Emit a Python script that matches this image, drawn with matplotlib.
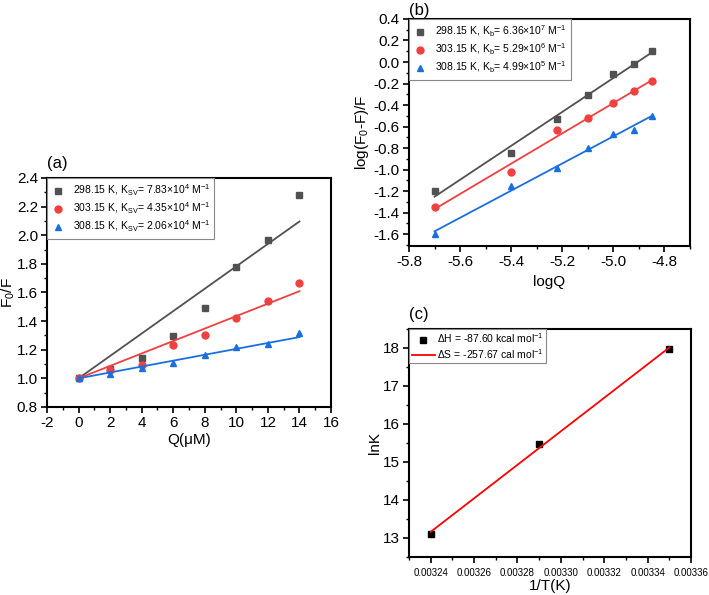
import matplotlib
matplotlib.use('Agg')
import matplotlib.pyplot as plt
from matplotlib.ticker import MultipleLocator, FormatStrFormatter
import numpy as np

plt.rcParams['font.family'] = ['Liberation Sans', 'DejaVu Sans']
plt.rcParams['mathtext.fontset'] = 'custom'
plt.rcParams['mathtext.rm'] = 'Liberation Sans'
plt.rcParams['mathtext.it'] = 'Liberation Sans:italic'
plt.rcParams['mathtext.default'] = 'regular'
plt.rcParams['axes.unicode_minus'] = False

# ---- data ----
temps = ['298.15', '303.15', '308.15']
colors = ['#515151', '#F14040', '#1A6FDF']
markers = ['s', 'o', '^']

# (a) Stern-Volmer
q_um = [0, 2, 4, 6, 8, 10, 12, 14]
f0f_298 = [1.0, 1.063, 1.144, 1.295, 1.495, 1.777, 1.97, 2.28]
f0f_303 = [1.0, 1.058, 1.095, 1.235, 1.305, 1.419, 1.542, 1.663]
f0f_308 = [1.0, 1.032, 1.074, 1.107, 1.163, 1.221, 1.237, 1.316]
ksv = [0.0783, 0.0435, 0.0206]   # per uM
ksv_txt = ['7.83', '4.35', '2.06']

# (b) double log
log_q = [-5.70, -5.40, -5.22, -5.10, -5.00, -4.92, -4.85]
logf_298 = [-1.20, -0.844, -0.529, -0.31, -0.115, -0.017, 0.10]
logf_303 = [-1.347, -1.02, -0.628, -0.517, -0.384, -0.27, -0.18]
logf_308 = [-1.60, -1.153, -0.986, -0.80, -0.665, -0.628, -0.505]
kb_txt = ['6.36×10$^7$', '5.29×10$^6$', '4.99×10$^5$']

# (c) van't Hoff
inv_t = [0.00324, 0.00329, 0.00335]
ln_k = [13.1, 15.48, 17.96]

fig = plt.figure(figsize=(7.09, 5.95), dpi=100)
axa = fig.add_axes([0.0663, 0.316, 0.4006, 0.3849])
axb = fig.add_axes([0.5769, 0.5866, 0.3963, 0.3815])
axc = fig.add_axes([0.5769, 0.0639, 0.3977, 0.3832])


def style(ax):
    for s in ax.spines.values():
        s.set_linewidth(1.5)
    ax.tick_params(which='major', direction='out', length=4, width=1.2,
                   labelsize=11, top=False, right=False, pad=2.5)
    ax.tick_params(which='minor', direction='out', length=2.2, width=1,
                   top=False, right=False)


def legend(ax, hl, htp, bp, ls):
    leg = ax.legend(loc='upper left', fontsize=7.5, borderaxespad=0, fancybox=False,
                    edgecolor='#888888', framealpha=1, handlelength=hl, handletextpad=htp,
                    borderpad=bp, labelspacing=ls)
    leg.get_frame().set_linewidth(0.8)


# ---- (a) ----
a_sets = [f0f_298, f0f_303, f0f_308]
qa = np.array(q_um)
for i in range(3):
    axa.plot(qa, 1 + ksv[i] * qa, color=colors[i], lw=1.3)
    axa.plot(q_um, a_sets[i], ls='none', marker=markers[i], color=colors[i],
             ms=5, label=temps[i] + ' K, K$_{SV}$= ' + ksv_txt[i] + '×10$^4$ M$^{-1}$')
axa.set_xlim(-2, 16)
axa.set_ylim(0.8, 2.4)
axa.xaxis.set_major_locator(MultipleLocator(2))
axa.xaxis.set_minor_locator(MultipleLocator(1))
axa.yaxis.set_major_locator(MultipleLocator(0.2))
axa.yaxis.set_minor_locator(MultipleLocator(0.1))
axa.yaxis.set_major_formatter(FormatStrFormatter('%.1f'))
axa.set_xlabel('Q(μM)', fontsize=11, labelpad=2)
axa.set_ylabel('F$_0$/F', fontsize=11, labelpad=0)
style(axa)
legend(axa, 1.2, 0.8, 0.45, 0.25)
axa.text(0.0, 1.03, '(a)', transform=axa.transAxes, fontsize=12, ha='left', va='bottom')

# ---- (b) ----
b_sets = [logf_298, logf_303, logf_308]
xb = np.array(log_q)
for i in range(3):
    p = np.polyfit(xb, b_sets[i], 1)
    axb.plot(xb, np.polyval(p, xb), color=colors[i], lw=1.3)
    axb.plot(log_q, b_sets[i], ls='none', marker=markers[i], color=colors[i],
             ms=5, label=temps[i] + ' K, K$_b$= ' + kb_txt[i] + ' M$^{-1}$')
axb.set_xlim(-5.8, -4.7)
axb.set_ylim(-1.71, 0.4)
axb.xaxis.set_major_locator(MultipleLocator(0.2))
axb.xaxis.set_minor_locator(MultipleLocator(0.1))
axb.yaxis.set_major_locator(MultipleLocator(0.2))
axb.yaxis.set_minor_locator(MultipleLocator(0.1))
axb.xaxis.set_major_formatter(FormatStrFormatter('%.1f'))
axb.yaxis.set_major_formatter(FormatStrFormatter('%.1f'))
axb.set_xlabel('logQ', fontsize=11, labelpad=4)
axb.set_ylabel('log(F$_0$-F)/F', fontsize=11, labelpad=2)
style(axb)
legend(axb, 1.2, 0.8, 0.45, 0.25)
axb.text(0.0, 1.005, '(b)', transform=axb.transAxes, fontsize=12, ha='left', va='bottom')

# ---- (c) ----
xc = np.array(inv_t)
pc = np.polyfit(xc, ln_k, 1)
axc.plot(inv_t, ln_k, ls='none', marker='s', color='black', ms=5,
         label='ΔH = -87.60 kcal mol$^{-1}$')
axc.plot(xc, np.polyval(pc, xc), color='red', lw=1.3,
         label='ΔS = -257.67 cal mol$^{-1}$')
axc.set_xlim(0.00323, 0.00336)
axc.set_ylim(12.5, 18.5)
axc.set_xticks(np.arange(0.00324, 0.003365, 0.00002))
axc.xaxis.set_minor_locator(MultipleLocator(0.00001))
axc.yaxis.set_major_locator(MultipleLocator(1))
axc.yaxis.set_minor_locator(MultipleLocator(0.5))
axc.xaxis.set_major_formatter(FormatStrFormatter('%.5f'))
axc.set_xlabel('1/T(K)', fontsize=11, labelpad=1)
axc.set_ylabel('lnK', fontsize=11, labelpad=1)
style(axc)
axc.tick_params(axis='x', which='major', labelsize=7, pad=4)
legend(axc, 2.2, 0.2, 0.25, 0.15)
axc.text(0.0, 1.03, '(c)', transform=axc.transAxes, fontsize=12, ha='left', va='bottom')

plt.savefig('out.png', dpi=100)
